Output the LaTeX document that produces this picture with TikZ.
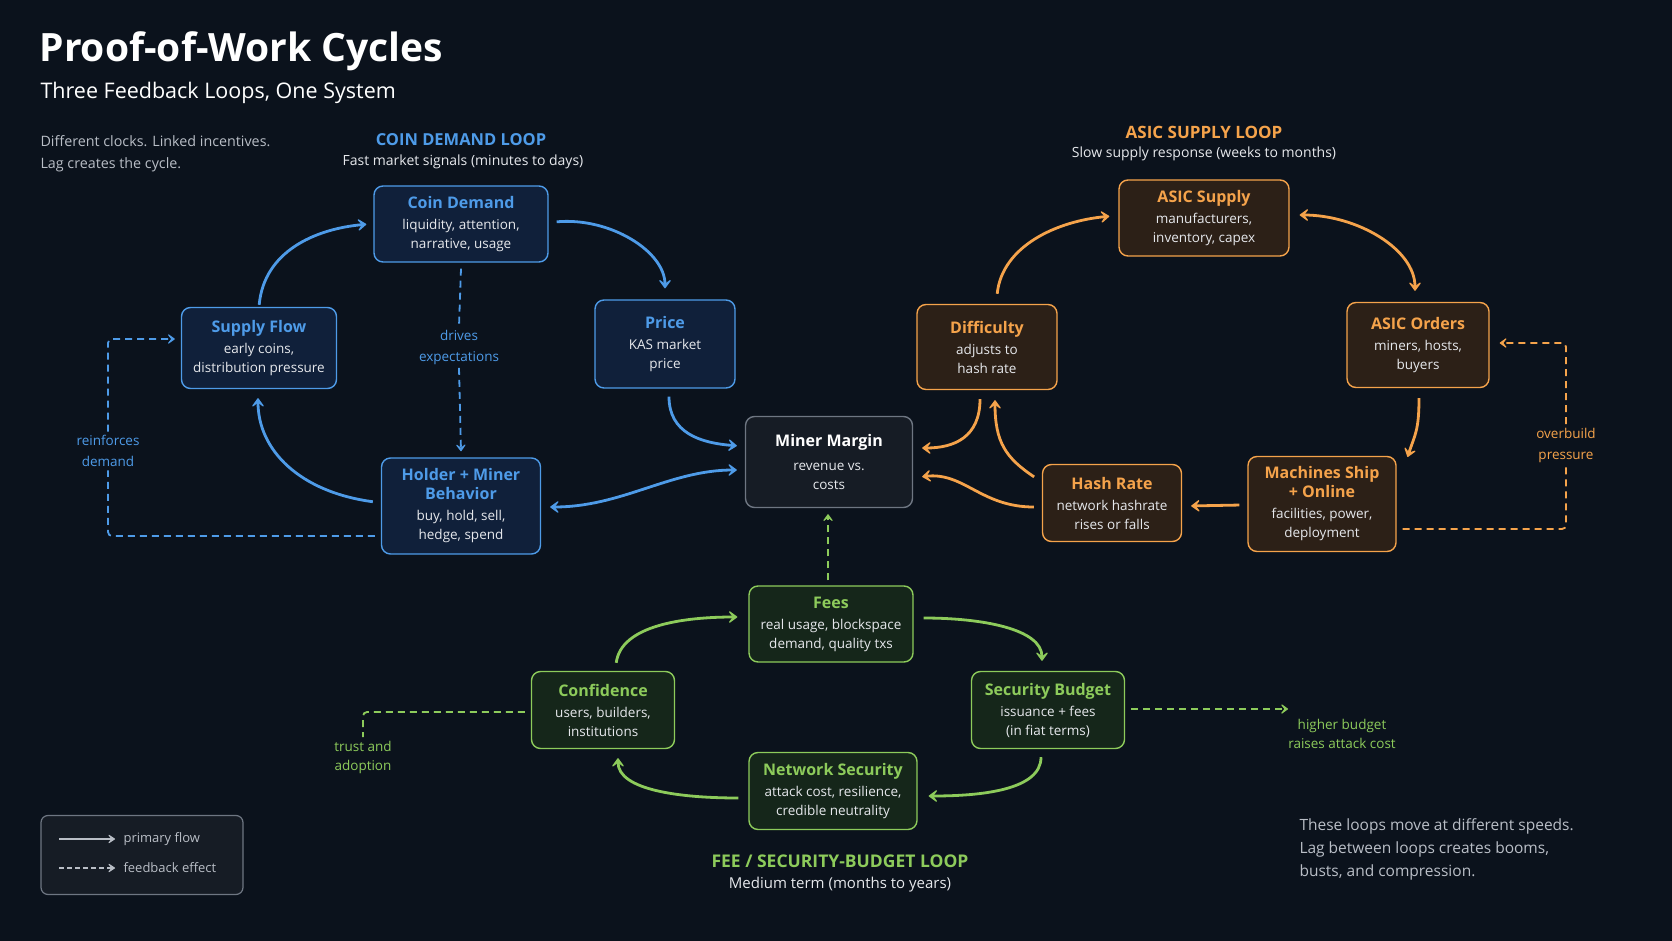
\documentclass[tikz,border=0pt]{standalone}
\usepackage{fontspec}
\setmainfont{Open Sans}
\usetikzlibrary{arrows.meta, positioning, calc}

\definecolor{bgnavy}{HTML}{0B121C}
\definecolor{cblue}{HTML}{4E9BE8}
\definecolor{corange}{HTML}{F5A34B}
\definecolor{cgreen}{HTML}{8DCB5B}
\definecolor{ctext}{HTML}{E6E8EC}
\definecolor{cgray}{HTML}{B9BEC6}
\definecolor{bluefill}{HTML}{10203A}
\definecolor{orangefill}{HTML}{2C2017}
\definecolor{greenfill}{HTML}{15261A}
\definecolor{marginfill}{HTML}{161C25}
\definecolor{marginline}{HTML}{6E7682}

\newcommand{\boxhead}[2]{{\color{#1}\fontsize{16}{20}\selectfont\bfseries #2}}

\begin{document}
\begin{tikzpicture}[x=1pt, y=-1pt,
  box/.style={rectangle, draw, rounded corners=9pt, line width=1.4pt, align=center, text=ctext, font=\fontsize{13.5}{19}\selectfont, inner sep=3pt},
  bluebox/.style={box, draw=cblue, fill=bluefill},
  orangebox/.style={box, draw=corange, fill=orangefill},
  greenbox/.style={box, draw=cgreen, fill=greenfill},
  loophead/.style={font=\fontsize{17}{20}\selectfont\bfseries},
  loopsub/.style={text=ctext, font=\fontsize{14}{18}\selectfont},
  note/.style={align=center, font=\fontsize{13.5}{21}\selectfont},
  flow/.style={line width=2.8pt, -{Stealth[length=11pt,width=16pt,inset=6pt,round]}, shorten <=2pt, shorten >=3pt},
  twoway/.style={flow, {Stealth[length=11pt,width=16pt,inset=6pt,round]}-{Stealth[length=11pt,width=16pt,inset=6pt,round]}, shorten <=3pt},
  fback/.style={line width=1.8pt, dash pattern=on 7pt off 5pt, rounded corners=4pt},
  fbarrow/.style={fback, -{Stealth[length=9pt,width=13pt,inset=5pt,round]}}
]
  \fill[bgnavy] (0,0) rectangle (1672,941);

  % headings
  \node[anchor=west, text=white, font=\fontsize{39}{44}\selectfont\bfseries] (ttl) at (36,51) {Proof-of-Work Cycles};
  \node[anchor=west, text=white, font=\fontsize{21.5}{25}\selectfont] (subttl) at (37,93) {Three Feedback Loops, One System};
  \node[anchor=north west, align=left, text=cgray, font=\fontsize{14.3}{22}\selectfont] (intro) at (37,132) {Different clocks. Linked incentives.\\Lag creates the cycle.};

  % coin demand loop
  \node[loophead, text=cblue, font=\fontsize{16.5}{20}\selectfont\bfseries] (cdhead) at (461,140) {COIN DEMAND LOOP};
  \node[loopsub] (cdsub) at (463,162) {Fast market signals (minutes to days)};
  \node[bluebox, minimum width=174pt, minimum height=76pt] (cdem) at (461,224) {\boxhead{cblue}{Coin Demand}\\[2pt]liquidity, attention,\\narrative, usage};
  \node[bluebox, minimum width=155pt, minimum height=81pt] (sflow) at (259,348) {\boxhead{cblue}{Supply Flow}\\[2pt]early coins,\\distribution pressure};
  \node[bluebox, minimum width=140pt, minimum height=88pt] (price) at (665,344) {\boxhead{cblue}{Price}\\[2pt]KAS market\\price};
  \node[bluebox, minimum width=159pt, minimum height=96pt] (hold) at (461,506) {\boxhead{cblue}{Holder + Miner}\\\boxhead{cblue}{Behavior}\\[2pt]buy, hold, sell,\\hedge, spend};
  \node[note, text=cblue] (drvlbl) at (459,347) {drives\\expectations};
  \node[note, text=cblue] (reinf) at (108,451) {reinforces\\demand};

  % miner margin
  \node[box, draw=marginline, fill=marginfill, minimum width=167pt, minimum height=91pt] (mmar) at (829,462) {\boxhead{white}{Miner Margin}\\[5pt]revenue vs.\\costs};

  % asic supply loop
  \node[loophead, text=corange] (ashead) at (1204,132) {ASIC SUPPLY LOOP};
  \node[loopsub] (assub) at (1204,154) {Slow supply response (weeks to months)};
  \node[orangebox, minimum width=170pt, minimum height=76pt] (asup) at (1204,218) {\boxhead{corange}{ASIC Supply}\\[2pt]manufacturers,\\inventory, capex};
  \node[orangebox, minimum width=140pt, minimum height=85pt] (diff) at (987,347) {\boxhead{corange}{Difficulty}\\[2pt]adjusts to\\hash rate};
  \node[orangebox, minimum width=142pt, minimum height=85pt] (aord) at (1418,345) {\boxhead{corange}{ASIC Orders}\\[2pt]miners, hosts,\\buyers};
  \node[orangebox, minimum width=148pt, minimum height=95pt] (mship) at (1322,504) {\boxhead{corange}{Machines Ship}\\\boxhead{corange}{+ Online}\\[2pt]facilities, power,\\deployment};
  \node[orangebox, minimum width=139pt, minimum height=77pt] (hash) at (1112,503) {\boxhead{corange}{Hash Rate}\\[2pt]network hashrate\\rises or falls};
  \node[note, text=corange] (overlbl) at (1566,445) {overbuild\\pressure};

  % fee / security-budget loop
  \node[greenbox, minimum width=164pt, minimum height=76pt] (fees) at (831,624) {\boxhead{cgreen}{Fees}\\[2pt]real usage, blockspace\\demand, quality txs};
  \node[greenbox, minimum width=143pt, minimum height=77pt] (conf) at (603,710) {\boxhead{cgreen}{Confidence}\\[2pt]users, builders,\\institutions};
  \node[greenbox, minimum width=153pt, minimum height=77pt] (secb) at (1048,710) {\boxhead{cgreen}{Security Budget}\\[2pt]issuance + fees\\(in fiat terms)};
  \node[greenbox, minimum width=168pt, minimum height=77pt] (nsec) at (833,791) {\boxhead{cgreen}{Network Security}\\[2pt]attack cost, resilience,\\credible neutrality};
  \node[note, text=cgreen, font=\fontsize{13.5}{19}\selectfont] (trustlbl) at (363,757) {trust and\\adoption};
  \node[note, text=cgreen, font=\fontsize{13.5}{19}\selectfont] (hbudget) at (1342,734) {higher budget\\raises attack cost};
  \node[loophead, text=cgreen, font=\fontsize{17.5}{20}\selectfont\bfseries] (fshead) at (840,861) {FEE / SECURITY-BUDGET LOOP};
  \node[loopsub, font=\fontsize{15}{18}\selectfont] (fssub) at (840,885) {Medium term (months to years)};
  \coordinate (hbtip) at (1288,709);

  \node[anchor=west, align=left, text=cgray, font=\fontsize{15.5}{23}\selectfont] (closing) at (1296,849) {These loops move at different speeds.\\Lag between loops creates booms,\\busts, and compression.};

  % legend
  \node[draw=marginline, fill=marginfill, line width=1.2pt, rounded corners=7pt, minimum width=202pt, minimum height=79pt] (legend) at (142,855) {};
  \node[anchor=west, text=cgray, font=\fontsize{13}{16}\selectfont] (lgprim) at (120,839) {primary flow};
  \node[anchor=west, text=cgray, font=\fontsize{13}{16}\selectfont] (lgfeed) at (120,868) {feedback effect};
  \coordinate (lgps) at (59,839);
  \coordinate (lgfs) at (59,868);
  \draw[cgray, line width=2pt, -{Stealth[length=9pt,width=12pt,inset=5pt,round]}] (lgps) -- ($(lgprim.west)+(-5,0)$);
  \draw[cgray, line width=2pt, dash pattern=on 5pt off 3pt, -{Stealth[length=9pt,width=12pt,inset=5pt,round]}] (lgfs) -- ($(lgfeed.west)+(-5,0)$);

  % blue flows
  \draw[flow, cblue] (sflow.north) .. controls +(5,-55) and +(-55,5) .. ($(cdem.west)+(-4,0)$);
  \draw[flow, cblue] ($(cdem.east)+(6,-2)$) .. controls +(55,-5) and +(0,-40) .. ($(price.north)+(0,-8)$);
  \draw[flow, cblue] ($(price.south)+(4,6)$) .. controls +(0,38) and +(-40,-3) .. ($(mmar.west)+(-5,-16)$);
  \draw[twoway, cblue] ($(hold.east)+(6,1)$) .. controls +(75,0) and +(-70,0) .. ($(mmar.west)+(-5,8)$);
  \draw[flow, cblue] ($(hold.west)+(-6,-4)$) .. controls +(-75,-10) and +(0,55) .. ($(sflow.south)+(-1,6)$);
  \draw[fback, cblue] ($(cdem.south)+(0,6)$) -- (drvlbl.north);
  \draw[fbarrow, cblue] (drvlbl.south) -- ($(hold.north)+(0,-6)$);
  \draw[fback, cblue] ($(hold.west)+(-6,30)$) -| (reinf.south);
  \draw[fbarrow, cblue] (reinf.north) |- ($(sflow.west)+(-6,-9)$);

  % orange flows
  \draw[flow, corange] ($(diff.north)+(10,-8)$) .. controls +(5,-50) and +(-55,5) .. ($(asup.west)+(-6,-2)$);
  \draw[twoway, corange] ($(asup.east)+(7,-3)$) .. controls +(60,0) and +(0,-45) .. ($(aord.north)+(-3,-8)$);
  \draw[flow, corange] ($(aord.south)+(1,8)$) .. controls +(0,35) and +(8,-25) .. ($(mship.north east)+(10,4)$);
  \draw[flow, corange] ($(mship.west)+(-6,1)$) -- ($(hash.east)+(6,3)$);
  \draw[flow, corange] ($(hash.west)+(-6,-25)$) .. controls +(-30,-20) and +(0,45) .. ($(diff.south)+(8,7)$);
  \draw[flow, corange] ($(hash.west)+(-6,4)$) .. controls +(-55,0) and +(45,-5) .. ($(mmar.east)+(6,15)$);
  \draw[flow, corange] ($(diff.south)+(-7,7)$) .. controls +(0,40) and +(35,0) .. ($(mmar.east)+(6,-14)$);
  \draw[fback, corange] ($(mship.east)+(6,25)$) -| (overlbl.south);
  \draw[fbarrow, corange] (overlbl.north) |- ($(aord.east)+(10,-2)$);

  % green flows
  \draw[flow, cgreen] ($(conf.north)+(13,-6)$) .. controls +(5,-40) and +(-55,0) .. ($(fees.west)+(-8,-7)$);
  \draw[flow, cgreen] ($(fees.east)+(8,-6)$) .. controls +(60,0) and +(0,-35) .. ($(secb.north)+(-6,-7)$);
  \draw[flow, cgreen] ($(secb.south)+(-7,6)$) .. controls +(0,35) and +(55,0) .. ($(nsec.east)+(8,5)$);
  \draw[flow, cgreen] ($(nsec.west)+(-8,7)$) .. controls +(-60,0) and +(0,35) .. ($(conf.south)+(15,6)$);
  \draw[fbarrow, cgreen] ($(fees.north)+(-3,-5)$) -- ($(mmar.south)+(-1,6)$);
  \draw[fback, cgreen] ($(conf.west)+(-6,2)$) -| (trustlbl.north);
  \draw[fbarrow, cgreen] ($(secb.east)+(6,-1)$) -- (hbtip);
\end{tikzpicture}
\end{document}
